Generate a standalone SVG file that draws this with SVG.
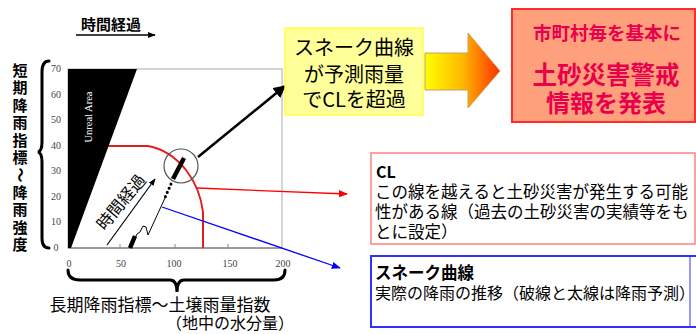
<svg xmlns="http://www.w3.org/2000/svg" width="696" height="334" viewBox="0 0 696 334">
<style>
.jp{font-family:"Noto Sans CJK JP","Noto Sans",sans-serif;fill:#000}
.ax{font-family:"Liberation Serif",serif;font-size:10px;fill:#444;text-anchor:middle}
.br{fill:none;stroke:#000;stroke-width:3;stroke-linecap:round}
.red{font-family:"Noto Sans CJK JP",sans-serif;font-weight:bold;fill:#E8004C;text-anchor:middle}
.vl{font-family:"Noto Sans CJK JP",sans-serif;font-size:15px;font-weight:bold;text-anchor:middle}
</style>
<defs>
<marker id="ab" viewBox="0 0 10 10" refX="9" refY="5" markerWidth="5" markerHeight="5" orient="auto"><path d="M0,0L10,5L0,10z" fill="#000"/></marker>
<marker id="ar" viewBox="0 0 10 10" refX="9" refY="5" markerWidth="7" markerHeight="7" orient="auto"><path d="M0,1L10,5L0,9z" fill="#f00"/></marker>
<marker id="au" viewBox="0 0 10 10" refX="9" refY="5" markerWidth="7" markerHeight="7" orient="auto"><path d="M0,1L10,5L0,9z" fill="#00f"/></marker>
<marker id="at" viewBox="0 0 10 10" refX="9" refY="5" markerWidth="6" markerHeight="6" orient="auto"><path d="M0,1L10,5L0,9z" fill="#000"/></marker>
<linearGradient id="g" x1="0" x2="1" y1="0" y2="0"><stop offset="0" stop-color="#FFFF00"/><stop offset="0.5" stop-color="#FFB800"/><stop offset="1" stop-color="#FF3000"/></linearGradient>
</defs>

<g id="axis-title-time">
<text class="jp" x="111" y="30" font-size="15" font-weight="bold" text-anchor="middle">時間経過</text>
<line x1="76" y1="35" x2="155" y2="35" stroke="#000" stroke-width="1.3" marker-end="url(#at)"/>
</g>

<g id="y-label">
<text class="vl" x="20" y="76">短</text>
<text class="vl" x="20" y="93">期</text>
<text class="vl" x="20" y="111">降</text>
<text class="vl" x="20" y="128">雨</text>
<text class="vl" x="20" y="146">指</text>
<text class="vl" x="20" y="163">標</text>
<text class="vl" transform="translate(20,175) rotate(90)" x="0" y="5">～</text>
<text class="vl" x="20" y="198">降</text>
<text class="vl" x="20" y="215">雨</text>
<text class="vl" x="20" y="233">強</text>
<text class="vl" x="20" y="250">度</text>
<path class="br" d="M49,61 Q42,61 42,72 V142 Q42,151 38,152 Q42,153 42,162 V238 Q42,248 49,248"/>
</g>

<g id="chart">
<rect x="68" y="69" width="214" height="179" fill="#fff" stroke="#aaa" stroke-width="1"/>
<line x1="68" y1="248" x2="282" y2="248" stroke="#888" stroke-width="1.5"/>
<g stroke="#888" stroke-width="1"><line x1="120" y1="248" x2="120" y2="244"/><line x1="175" y1="248" x2="175" y2="244"/><line x1="228" y1="248" x2="228" y2="244"/></g>
<g class="ax">
<text x="56" y="72">70</text><text x="56" y="98">60</text><text x="56" y="123">50</text><text x="56" y="149">40</text><text x="56" y="174">30</text><text x="56" y="200">20</text><text x="56" y="225">10</text><text x="56" y="251">0</text>
<text x="69" y="267">0</text><text x="121" y="267">50</text><text x="174" y="267">100</text><text x="230" y="267">150</text><text x="283" y="267">200</text>
</g>
<path d="M68,146 H148 Q170,150 186,170 Q200,188 203,212 V248" fill="none" stroke="#E02020" stroke-width="2"/>
<path d="M68,69 H137 L71,248 H68 Z" fill="#000"/>
<text transform="translate(88,117) rotate(-90)" text-anchor="middle" y="4" font-family="Liberation Serif,serif" font-size="10.5" fill="#fff">Unreal Area</text>
<circle cx="181" cy="166" r="17" fill="none" stroke="#555" stroke-width="1.2"/>
<line x1="184" y1="158" x2="173" y2="179" stroke="#000" stroke-width="4.5"/>
<line x1="171" y1="184" x2="164" y2="200" stroke="#000" stroke-width="3" stroke-linecap="round" stroke-dasharray="0.1,4.5"/>
<path d="M165,198 L148,235 L146,227 L143,226 L140,232 L137,234 L135,238" fill="none" stroke="#000" stroke-width="1"/>
<path d="M135,236 L130,248" stroke="#000" stroke-width="4.5"/>
<g id="time-diag">
<line x1="107" y1="245" x2="155" y2="179" stroke="#000" stroke-width="1.2" marker-end="url(#at)"/>
<text class="jp" transform="translate(121,202) rotate(-50)" y="6" font-size="16.5" text-anchor="middle">時間経過</text>
</g>
</g>

<g id="x-label">
<path class="br" d="M68,270 Q68,280 80,280 H170 Q177,280 177,292 Q177,280 184,280 H274 Q285,280 285,270"/>
<text class="jp" x="160" y="311" font-size="17" text-anchor="middle">長期降雨指標～土壌雨量指数</text>
<text class="jp" x="230" y="329" font-size="16" text-anchor="middle">（地中の水分量）</text>
</g>

<g id="connectors">
<line x1="198" y1="157" x2="285" y2="86" stroke="#000" stroke-width="2.5" marker-end="url(#ab)"/>
<line x1="197" y1="188" x2="347" y2="194" stroke="#f00" stroke-width="1.3" marker-end="url(#ar)"/>
<line x1="162" y1="207" x2="340" y2="268" stroke="#00f" stroke-width="1.3" marker-end="url(#au)"/>
</g>

<g id="yellow-box">
<rect x="285" y="28" width="138" height="87" fill="#FFFF99" stroke="#FFFF44" stroke-width="1.5"/>
<text class="jp" font-size="20" text-anchor="middle"><tspan x="354" y="55">スネーク曲線</tspan><tspan x="354" y="82">が予測雨量</tspan><tspan x="354" y="107">でCLを超過</tspan></text>
</g>

<g id="big-arrow">
<path d="M425,53 H468 V33 L500,71 L468,108 V90 H425 Z" fill="url(#g)" stroke="#C8A060" stroke-width="1"/>
</g>

<g id="red-box">
<rect x="512" y="9" width="183" height="113" fill="#FFA07C" stroke="#FF2A2A" stroke-width="2"/>
<text class="red" x="607" y="40" font-size="18.5">市町村毎を基本に</text>
<text class="red" x="606" y="84" font-size="24.5">土砂災害警戒</text>
<text class="red" x="606" y="112" font-size="24">情報を発表</text>
</g>

<g id="cl-box">
<rect x="371" y="153" width="324" height="91" fill="#fff" stroke="#FF8080" stroke-width="1.5"/>
<text class="jp" x="376" y="178" font-size="16" font-weight="bold" font-family="Liberation Sans,sans-serif">CL</text>
<text class="jp" font-size="16.5"><tspan x="375" y="198">この線を越えると土砂災害が発生する可能</tspan><tspan x="375" y="218">性がある線（過去の土砂災害の実績等をも</tspan><tspan x="375" y="238">とに設定）</tspan></text>
</g>

<g id="snake-box">
<rect x="371" y="256" width="330" height="71" fill="#fff" stroke="#3030FF" stroke-width="2"/>
<line x1="690" y1="256" x2="690" y2="327" stroke="#3030FF" stroke-width="1"/>
<text class="jp" x="375" y="279" font-size="16.5" font-weight="bold">スネーク曲線</text>
<text class="jp" x="375" y="299" font-size="16">実際の降雨の推移（破線と太線は降雨予測）</text>
</g>
</svg>
